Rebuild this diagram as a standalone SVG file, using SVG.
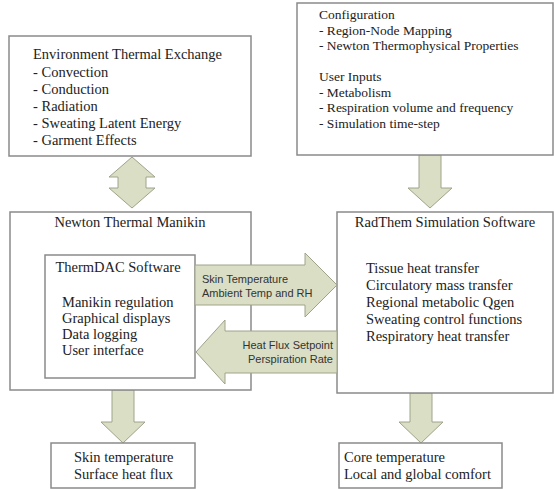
<svg xmlns="http://www.w3.org/2000/svg" width="554" height="489" viewBox="0 0 554 489">
<style>
.box{fill:#fff;stroke:#8a8a8a;stroke-width:1.5}
.arr{fill:#d9dec5;stroke:#9ea48a;stroke-width:1}
.t{font-family:'Liberation Serif','DejaVu Serif','Times New Roman',Times,serif;font-size:14.5px;fill:#222}
.c{font-size:13.5px}
.s{font-family:'Liberation Sans',Arial,sans-serif;font-size:11px;fill:#333}
</style>
<rect width="554" height="489" fill="#fff"/>
<g id="connectors">
<polygon class="arr" points="132,157 155,177 146,177 146,188 155,188 132,208 109,188 118,188 118,177 109,177"/>
<polygon class="arr" points="419,155 441,155 441,188 452,188 430,208 408,188 419,188"/>
<polygon class="arr" points="112,390 134,390 134,422 145,422 123,443 101,422 112,422"/>
<polygon class="arr" points="410,393 432,393 432,422 443,422 421,443 399,422 410,422"/>
</g>
<g id="env">
<rect class="box" x="9" y="36" width="242" height="120"/>
<text class="t" x="33" y="59">Environment Thermal Exchange</text>
<text class="t" x="33" y="77">- Convection</text>
<text class="t" x="33" y="94">- Conduction</text>
<text class="t" x="33" y="111">- Radiation</text>
<text class="t" x="33" y="128">- Sweating Latent Energy</text>
<text class="t" x="33" y="145">- Garment Effects</text>
</g>
<g id="config">
<rect class="box" x="297" y="3" width="256" height="152"/>
<text class="t c" x="319" y="19">Configuration</text>
<text class="t c" x="319" y="34.5">- Region-Node Mapping</text>
<text class="t c" x="319" y="50">- Newton Thermophysical Properties</text>
<text class="t c" x="319" y="81">User Inputs</text>
<text class="t c" x="319" y="96.5">- Metabolism</text>
<text class="t c" x="319" y="112">- Respiration volume and frequency</text>
<text class="t c" x="319" y="127.5">- Simulation time-step</text>
</g>
<g id="newton">
<rect class="box" x="10" y="212" width="241" height="178"/>
<text class="t" x="130" y="227" text-anchor="middle">Newton Thermal Manikin</text>
</g>
<g id="thermdac">
<rect class="box" x="45" y="255" width="150" height="123"/>
<text class="t" x="118" y="272" text-anchor="middle">ThermDAC Software</text>
<text class="t" x="62" y="307">Manikin regulation</text>
<text class="t" x="62" y="323">Graphical displays</text>
<text class="t" x="62" y="339">Data logging</text>
<text class="t" x="62" y="355">User interface</text>
</g>
<g id="radtherm">
<rect class="box" x="337" y="212" width="216" height="181"/>
<text class="t" x="445" y="227" text-anchor="middle">RadThem Simulation Software</text>
<text class="t" x="366" y="273">Tissue heat transfer</text>
<text class="t" x="366" y="290">Circulatory mass transfer</text>
<text class="t" x="366" y="307">Regional metabolic Qgen</text>
<text class="t" x="366" y="324">Sweating control functions</text>
<text class="t" x="366" y="341">Respiratory heat transfer</text>
</g>
<g id="flows">
<polygon class="arr" points="195,265 305,265 305,253 337,285 305,317 305,305 195,305"/>
<text class="s" x="202" y="283">Skin Temperature</text>
<text class="s" x="202" y="297">Ambient Temp and RH</text>
<polygon class="arr" points="337,331 225,331 225,320 196,352 225,384 225,373 337,373"/>
<text class="s" x="333" y="349" text-anchor="end">Heat Flux Setpoint</text>
<text class="s" x="333" y="363" text-anchor="end">Perspiration Rate</text>
</g>
<g id="skin">
<rect class="box" x="51" y="443" width="144" height="45"/>
<text class="t" x="74" y="462">Skin temperature</text>
<text class="t" x="74" y="479">Surface heat flux</text>
</g>
<g id="core">
<rect class="box" x="339" y="443" width="163" height="45"/>
<text class="t" x="344" y="462">Core temperature</text>
<text class="t" x="344" y="479">Local and global comfort</text>
</g>
</svg>
